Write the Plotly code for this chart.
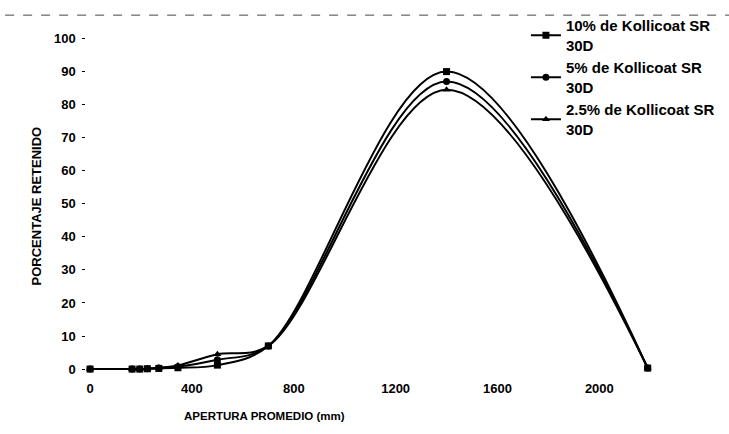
import plotly.graph_objects as go

apertura = [0, 165, 195, 225, 270, 345, 500, 700, 1400, 2190]
kollicoat_10 = [0, 0, 0, 0.1, 0.2, 0.4, 1.2, 7, 90, 0.3]
kollicoat_5 = [0, 0, 0, 0.1, 0.3, 0.7, 2.8, 7, 87, 0.3]
kollicoat_2_5 = [0, 0, 0, 0.1, 0.4, 1.1, 4.5, 7, 84.5, 0.3]

series_names = ["<b>10% de Kollicoat SR<br>30D</b>", "<b>5% de Kollicoat SR<br>30D</b>", "<b>2.5% de Kollicoat SR<br>30D</b>"]
series_values = [kollicoat_10, kollicoat_5, kollicoat_2_5]
symbols = ["square", "circle", "triangle-up"]

x_ticks = [0, 400, 800, 1200, 1600, 2000]
y_ticks = [0, 10, 20, 30, 40, 50, 60, 70, 80, 90, 100]

fig = go.Figure()
for name, vals, sym in zip(series_names, series_values, symbols):
    fig.add_trace(go.Scatter(
        x=apertura, y=vals, name=name, mode="lines+markers",
        line=dict(color="black", width=2, shape="spline", smoothing=1.0),
        marker=dict(symbol=sym, size=7, color="black"),
    ))

FONT = "Liberation Sans, Arial, sans-serif"
L, R, T, B = 86, 9, 15, 55
fig.update_layout(
    width=729, height=434,
    margin=dict(l=L, r=R, t=T, b=B),
    paper_bgcolor="white", plot_bgcolor="white",
    font=dict(family=FONT, size=12, color="black"),
    showlegend=True,
    legend=dict(x=0.695, y=1.036, xanchor="left", yanchor="top",
                font=dict(family=FONT, size=15, color="black"),
                bgcolor="rgba(0,0,0,0)", tracegroupgap=0, itemwidth=30),
    xaxis=dict(range=[-16, 2470], tickvals=x_ticks, ticktext=[f"<b>{v}</b>" for v in x_ticks],
               showgrid=False, zeroline=False,
               showline=False, ticks="", tickfont=dict(family=FONT, size=13, color="black")),
    yaxis=dict(range=[-3, 105], tickvals=y_ticks, ticktext=[f"<b>{v}</b> " for v in y_ticks],
               showgrid=False, zeroline=False, showline=False,
               ticks="outside", ticklen=3, tickcolor="black", tickwidth=1,
               tickfont=dict(family=FONT, size=13, color="black")),
    annotations=[
        dict(text="<b>APERTURA PROMEDIO (mm)</b>", xref="paper", yref="paper",
             x=(265 - L) / (729 - L - R), y=-0.105, xanchor="center", yanchor="middle",
             showarrow=False, font=dict(family=FONT, size=11.5, color="black")),
        dict(text="<b>PORCENTAJE RETENIDO</b>", xref="paper", yref="paper",
             x=(36 - L) / (729 - L - R), y=(434 - B - 203) / (434 - T - B),
             xanchor="center", yanchor="middle", textangle=-90,
             showarrow=False, font=dict(family=FONT, size=13, color="black")),
    ],
    shapes=[
        dict(type="line", xref="paper", yref="paper",
             x0=(5 - L) / (729 - L - R), x1=1.02, y0=(434 - B - 8) / (434 - T - B),
             y1=(434 - B - 8) / (434 - T - B),
             line=dict(color="#444", width=1, dash="dash")),
    ],
)

fig.write_html("out.html")
